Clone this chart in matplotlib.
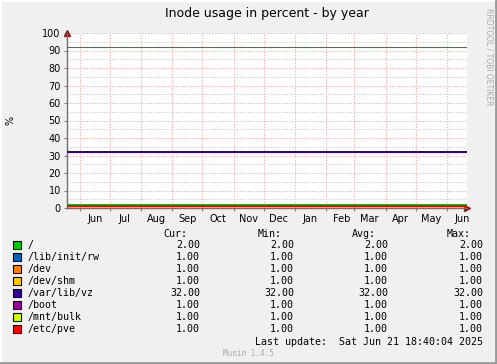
import datetime as dt
import matplotlib
matplotlib.use("Agg")
from matplotlib import pyplot as plt
from matplotlib.patches import Rectangle

# Datos
names = ["/", "/lib/init/rw", "/dev", "/dev/shm", "/var/lib/vz", "/boot", "/mnt/bulk", "/etc/pve"]
colors = ["#00CC00", "#0066B3", "#FF8000", "#FFCC00", "#330099", "#990099", "#CCFF00", "#FF0000"]
cur = [2.00, 1.00, 1.00, 1.00, 32.00, 1.00, 1.00, 1.00]
mins = [2.00, 1.00, 1.00, 1.00, 32.00, 1.00, 1.00, 1.00]
avgs = [2.00, 1.00, 1.00, 1.00, 32.00, 1.00, 1.00, 1.00]
maxs = [2.00, 1.00, 1.00, 1.00, 32.00, 1.00, 1.00, 1.00]
warning = 92
start = dt.datetime(2024, 5, 19, 12)
end = dt.datetime(2025, 6, 20, 18, 40)
months = ["Jun", "Jul", "Aug", "Sep", "Oct", "Nov", "Dec", "Jan", "Feb", "Mar", "Apr", "May", "Jun"]

W, H = 497, 364
fig = plt.figure(figsize=(W / 100, H / 100), dpi=100, facecolor="#F0F0F0")

def fx(x):
    return x / W

def fy(y):
    return 1 - y / H

# Marco
fig.add_artist(plt.Line2D([0, 1], [fy(1), fy(1)], color="#FFFFFF", lw=1.5, transform=fig.transFigure))
fig.add_artist(plt.Line2D([fx(1), fx(1)], [0, 1], color="#FFFFFF", lw=1.5, transform=fig.transFigure))
fig.add_artist(plt.Line2D([0, 1], [fy(363), fy(363)], color="#9A9A9A", lw=2, transform=fig.transFigure))
fig.add_artist(plt.Line2D([fx(496), fx(496)], [0, 1], color="#9A9A9A", lw=2, transform=fig.transFigure))

left, right, top, bottom = 67, 467, 33, 208
ax = fig.add_axes([fx(left), fy(bottom), fx(right - left), fy(top) - fy(bottom)])
ax.set_facecolor("white")

dates = [start, end]
for n, c, v in zip(names, colors, cur):
    ax.plot(dates, [v, v], color=c, lw=1.5, solid_capstyle="butt", zorder=3)
ax.plot(dates, [warning, warning], color="#00AA00", lw=0.8, zorder=3)

ax.set_xlim(start, end)
ax.set_ylim(0, 100)

# Rejilla
ax.set_yticks(range(0, 101, 10))
ax.set_yticks(range(5, 100, 10), minor=True)
month_starts = [dt.datetime(2024 + (5 + i) // 12, (5 + i) % 12 + 1, 1) for i in range(13)]
mid = [d + dt.timedelta(days=15) for d in month_starts]
ax.set_xticks(month_starts)
ax.set_xticklabels([""] * len(month_starts))
ax.set_xticks(mid, minor=True)
ax.set_xticklabels(months, minor=True)

ax.grid(True, which="major", color="#F4A8A8", linestyle=(0, (1, 1.5)), lw=0.8)
ax.yaxis.grid(True, which="minor", color="#C8C8C8", linestyle=(0, (1, 1.5)), lw=0.8)
ax.set_axisbelow(True)

ax.tick_params(axis="both", which="major", length=2.5, color="#808080", labelsize=7, pad=2)
ax.tick_params(axis="x", which="minor", length=0, labelsize=7, pad=4.5)
ax.tick_params(axis="y", which="minor", length=0)
for s in ["top", "right"]:
    ax.spines[s].set_visible(False)
for s in ["left", "bottom"]:
    ax.spines[s].set_color("#707070")
    ax.spines[s].set_linewidth(1)

# Flechas
ax.plot([0], [1.0], marker="^", color="#8B1A1A", ms=5, transform=ax.transAxes, clip_on=False)
ax.plot([1.0], [0], marker=">", color="#8B1A1A", ms=5, transform=ax.transAxes, clip_on=False)

# Textos
fig.text(fx(267), fy(13), "Inode usage in percent - by year", ha="center", va="center", fontsize=9)
fig.text(fx(10), fy(120), "%", rotation=90, ha="center", va="center", fontsize=7)
fig.text(fx(489), fy(57), "RRDTOOL / TOBI OETIKER", rotation=270, ha="center", va="center",
         fontsize=5.5, color="#AAAAAA")

mono = "DejaVu Sans Mono"
fs = 7.2
headers = [("Cur:", 187), ("Min:", 282), ("Avg:", 376), ("Max:", 471)]
for h, x in headers:
    fig.text(fx(x), fy(234), h, ha="right", va="center", family=mono, fontsize=fs)

cols = [cur, mins, avgs, maxs]
col_x = [200, 294, 388, 483]
for i, (n, c) in enumerate(zip(names, colors)):
    y = 245 + 12 * i
    fig.add_artist(Rectangle((fx(13), fy(y + 4)), fx(8), fy(y - 4) - fy(y + 4),
                             facecolor=c, edgecolor="black", lw=0.8, transform=fig.transFigure))
    fig.text(fx(27), fy(y), n, ha="left", va="center", family=mono, fontsize=fs)
    for vals, x in zip(cols, col_x):
        fig.text(fx(x), fy(y), "%.2f" % vals[i], ha="right", va="center", family=mono, fontsize=fs)

fig.text(fx(483), fy(342), "Last update:  Sat Jun 21 18:40:04 2025", ha="right", va="center",
         family=mono, fontsize=fs)
fig.text(fx(248), fy(354), "Munin 1.4.5", ha="center", va="center", family=mono, fontsize=5.5,
         color="#AAAAAA")

plt.savefig("out.png", dpi=100, facecolor=fig.get_facecolor())
